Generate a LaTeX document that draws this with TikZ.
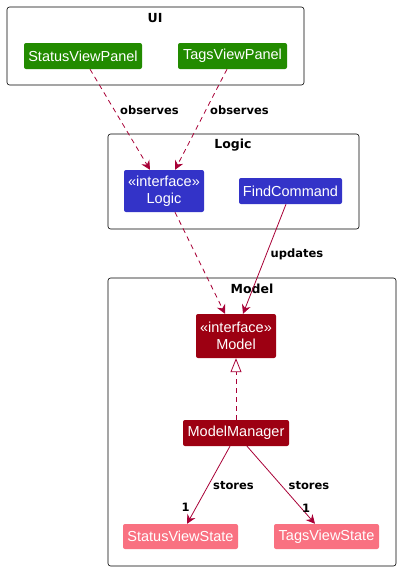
\documentclass[tikz,border=0pt]{standalone}
\usepackage{fontspec}
\setmainfont{Liberation Sans}
\newfontfamily\lblfont{DejaVu Sans}
\usetikzlibrary{arrows.meta}
\definecolor{uigreen}{HTML}{228B00}
\definecolor{logicblue}{HTML}{3333C8}
\definecolor{modelred}{HTML}{9D0012}
\definecolor{statepink}{HTML}{F97181}
\definecolor{arrowred}{HTML}{A80036}
\begin{document}
\begin{tikzpicture}[x=1pt,y=-1pt,
  pkg/.style={draw=black,line width=0.6pt,rounded corners=2.5pt},
  pkgtitle/.style={font=\lblfont\bfseries\fontsize{12.5}{14}\selectfont,inner sep=0pt},
  cls/.style={rounded corners=2pt,text=white,inner sep=0pt,align=center,font=\fontsize{14.5}{16.5}\selectfont},
  lbl/.style={font=\lblfont\bfseries\fontsize{11.5}{13}\selectfont,inner sep=0pt,text=black},
  dep/.style={draw=arrowred,line width=0.8pt,dash pattern=on 5pt off 4pt,-{Stealth[length=9pt,width=9pt,inset=3pt]}},
  assoc/.style={draw=arrowred,line width=0.8pt,-{Stealth[length=9pt,width=9pt,inset=3pt]}},
  real/.style={draw=arrowred,line width=0.8pt,dash pattern=on 5pt off 4pt,-{Triangle[open,length=14pt,width=11pt,fill=white]}}
]
\useasboundingbox (0,0) rectangle (401,571);
% packages
\draw[pkg] (7,7) rectangle (304,85);
\node[pkgtitle] (uit) at (155,18) {UI};
\draw[pkg] (108,134) rectangle (359,229);
\node[pkgtitle] (logict) at (233,145) {Logic};
\draw[pkg] (108,278) rectangle (396,566);
\node[pkgtitle] (modelt) at (252,289) {Model};
% classes
\node[cls,fill=uigreen,minimum width=118pt,minimum height=26pt] (svp) at (83,56) {StatusViewPanel};
\node[cls,fill=uigreen,minimum width=109pt,minimum height=26pt] (tvp) at (232.5,56) {TagsViewPanel};
\node[cls,fill=logicblue,minimum width=80pt,minimum height=42pt] (logic) at (164,191) {«interface»\\Logic};
\node[cls,fill=logicblue,minimum width=103pt,minimum height=26pt] (find) at (290.5,191) {FindCommand};
\node[cls,fill=modelred,minimum width=80pt,minimum height=44pt] (model) at (236,336) {«interface»\\Model};
\node[cls,fill=modelred,minimum width=106pt,minimum height=26pt] (mm) at (236,433) {ModelManager};
\node[cls,fill=statepink,minimum width=115pt,minimum height=25pt] (svs) at (180.5,536.5) {StatusViewState};
\node[cls,fill=statepink,minimum width=105pt,minimum height=25pt] (tvs) at (326.5,536.5) {TagsViewState};
% connectors
\draw[dep] (svp.south -| 90,0) -- (logic.north -| 150,0);
\draw[dep] (tvp.south -| 227,0) -- (logic.north -| 175,0);
\draw[dep] (logic.south -| 175,0) -- (model.north -| 225,0);
\draw[assoc] (find.south -| 286,0) -- (model.north -| 243,0);
\draw[real] (mm.north) -- (model.south);
\draw[assoc] (mm.south -| 230,0) -- (svs.north -| 187,0);
\draw[assoc] (mm.south -| 247,0) -- (tvs.north -| 315,0);
% labels
\node[lbl] (l1) at (149.5,110.5) {observes};
\node[lbl] (l2) at (239.5,110.5) {observes};
\node[lbl] (l3) at (297,254.5) {updates};
\node[lbl] (l4) at (233.5,486) {stores};
\node[lbl] (l5) at (309,486) {stores};
\node[lbl] (m1) at (185.5,507) {1};
\node[lbl] (m2) at (306,508) {1};
\end{tikzpicture}
\end{document}
